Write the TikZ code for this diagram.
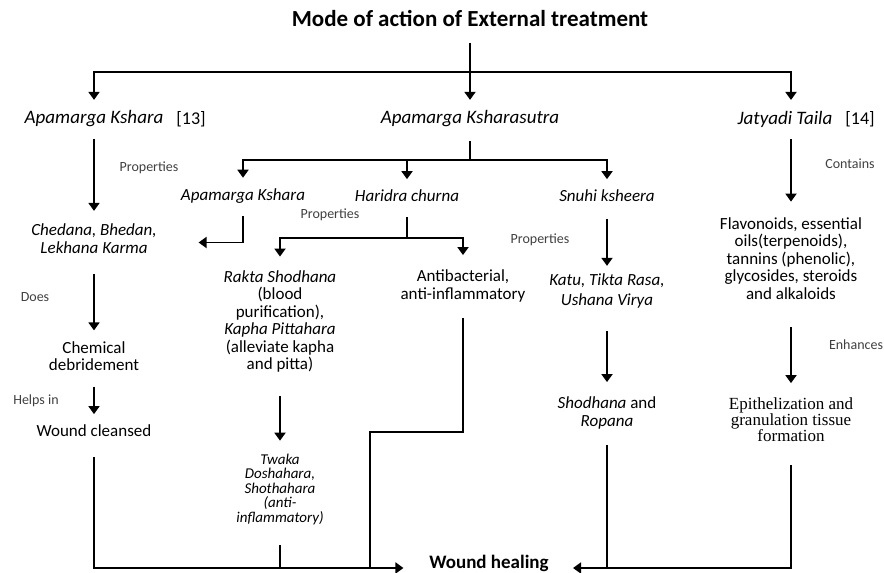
\documentclass[tikz,border=0pt]{standalone}
\usepackage{fontspec}
\setmainfont{Carlito}
\newfontfamily\serifbody{Liberation Serif}
\usetikzlibrary{arrows.meta}

\tikzset{
	every node/.style={inner sep=0pt},
	arr/.style={-{Triangle[width=11pt,length=8pt]}},
	head/.style={font=\itshape\fontsize{19}{22}\selectfont},
	body/.style={align=center,font=\fontsize{17}{17.5}\selectfont},
	bodyit/.style={align=center,font=\itshape\fontsize{17}{17.5}\selectfont},
	note/.style={font=\fontsize{14}{16}\selectfont,text=black!75}
}

\begin{document}
\begin{tikzpicture}[x=1pt,y=-1pt,line width=1.8pt]
\useasboundingbox (0,0) rectangle (884,573);

\node[font=\bfseries\fontsize{23}{26}\selectfont] (title) at (470,18) {Mode of action of External treatment};
\node[head] (ak) at (94,119) {Apamarga Kshara};
\node[font=\fontsize{18}{20}\selectfont] (ref13) at (191,119) {[13]};
\node[head] (aks) at (470,119) {Apamarga Ksharasutra};
\node[head] (jt) at (785,119) {Jatyadi Taila};
\node[font=\fontsize{18}{20}\selectfont] (ref14) at (860,119) {[14]};

\node[bodyit] (ched) at (94,238.5) {Chedana, Bhedan,\\Lekhana Karma};
\node[body] (chem) at (94,356) {Chemical\\debridement};
\node[body] (wc) at (94,431) {Wound cleansed};

\node[bodyit] (amk) at (243,196) {Apamarga Kshara};
\node[bodyit] (hc) at (407,196) {Haridra churna};
\node[bodyit] (sk) at (607,196) {Snuhi ksheera};

\node[body] (rs) at (280,321.5) {\textit{Rakta Shodhana}\\(blood\\purification),\\\textit{Kapha Pittahara}\\(alleviate kapha\\and pitta)};
\node[body] (anti) at (463,286) {Antibacterial,\\anti-inflammatory};
\node[align=center,font=\itshape\fontsize{15}{14.5}\selectfont] (twaka) at (280,489) {Twaka\\Doshahara,\\Shothahara\\(anti-\\inflammatory)};

\node[align=center,font=\itshape\fontsize{17}{20}\selectfont] (katu) at (607,291) {Katu, Tikta Rasa,\\Ushana Virya};
\node[body] (shod) at (607,413) {\textit{Shodhana} and\\\textit{Ropana}};

\node[body] (flav) at (791,258.5) {Flavonoids, essential\\oils(terpenoids),\\tannins (phenolic),\\glycosides, steroids\\and alkaloids};
\node[align=center,font=\serifbody\fontsize{17}{16}\selectfont] (epi) at (791,420) {Epithelization and\\granulation tissue\\formation};

\node[font=\bfseries\fontsize{19}{22}\selectfont] (wh) at (489,563.5) {Wound healing};

\node[note] (prop1) at (149,168) {Properties};
\node[note] (does) at (35,297) {Does};
\node[note] (helps) at (36,401) {Helps in};
\node[note] (prop2) at (330,215) {Properties};
\node[note] (prop3) at (540,240) {Properties};
\node[note] (cont) at (850,164) {Contains};
\node[note] (enh) at (856,345) {Enhances};

\coordinate (top) at (470,72);
\coordinate (mid) at (470,160);
\coordinate (split) at (407,238);
\coordinate (knee) at (370,432);
\coordinate (base) at (489,568);

\draw[arr,shorten <=16pt,shorten >=10pt] (title.south) -- (aks.north);
\draw[arr,shorten >=10pt] (top) -| (ak.north);
\draw[arr,shorten >=10pt] (top) -| ([xshift=6pt]jt.north);

\draw[arr,shorten <=11pt,shorten >=12pt] (ak.south) -- (ched.north);
\draw[arr,shorten <=20pt,shorten >=10pt] (ched.south) -- (chem.north);
\draw[arr,shorten <=15pt,shorten >=10pt] (chem.south) -- (wc.north);
\draw[arr,shorten <=19pt,shorten >=25pt] (wc.south) |- (wh.west |- base);

\draw[shorten <=13pt] (aks.south) -- (mid);
\draw[arr,shorten >=10pt] (mid) -| (amk.north);
\draw[arr,shorten >=10pt] (mid) -| (sk.north);
\draw[arr,shorten >=10pt] (hc.north |- mid) -- (hc.north);
\draw[arr,shorten <=12pt,shorten >=41pt] (amk.south) |- ([yshift=-4pt]ched.east);

\draw[shorten <=14pt] (hc.south) -- (split);
\draw[arr,shorten >=13pt] (split) -| (rs.north);
\draw[arr,shorten >=14pt] (split) -| (anti.north);
\draw[arr,shorten <=23pt,shorten >=12pt] (rs.south) -- (twaka.north);
\draw[shorten <=20pt] (twaka.south) -- (twaka.south |- base);
\draw[shorten <=15pt] (anti.south) |- (knee) -- (knee |- base);

\draw[arr,shorten <=16pt,shorten >=7pt] (sk.south) -- (katu.north);
\draw[arr,shorten <=22pt,shorten >=14pt] (katu.south) -- (shod.north);
\draw[shorten <=15pt] (shod.south) -- (shod.south |- base);

\draw[arr,shorten <=11pt,shorten >=15pt] ([xshift=6pt]jt.south) -- (flav.north);
\draw[arr,shorten <=27pt,shorten >=14pt] (flav.south) -- (epi.north);
\draw[arr,shorten <=22pt,shorten >=23.5pt] (epi.south) |- (wh.east |- base);
\end{tikzpicture}
\end{document}
